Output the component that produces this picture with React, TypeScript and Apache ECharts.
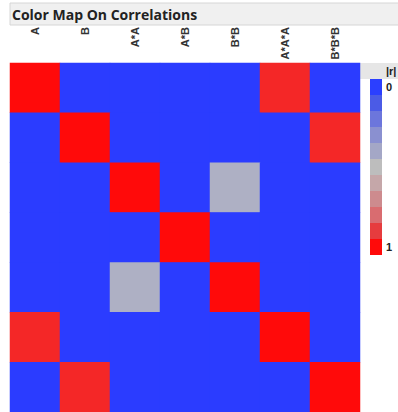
import React, { useEffect, useRef } from "react";
import * as echarts from "echarts";

const variables = ["A", "B", "A*A", "A*B", "B*B", "A*A*A", "B*B*B"];
const rowA = [1, 0, 0, 0, 0, 0.92, 0];
const rowB = [0, 1, 0, 0, 0, 0, 0.92];
const rowAA = [0, 0, 1, 0, 0.45, 0, 0];
const rowAB = [0, 0, 0, 1, 0, 0, 0];
const rowBB = [0, 0, 0.45, 0, 1, 0, 0];
const rowAAA = [0.92, 0, 0, 0, 0, 1, 0];
const rowBBB = [0, 0.92, 0, 0, 0, 0, 1];
const matrix = [rowA, rowB, rowAA, rowAB, rowBB, rowAAA, rowBBB];

const legendColors = [
  "#2b3fff", "#4b5be6", "#6c76dc", "#8a90d0", "#a4a7c6", "#bdbdbd",
  "#c5a7a9", "#cd8b8e", "#d96c70", "#e63c3e", "#ff0a0a",
];
const legendEnds = ["0", "1"];

export default function App() {
  const ref = useRef<HTMLDivElement>(null);
  useEffect(() => {
    const chart = echarts.init(ref.current!, null, { renderer: "svg" });
    const data: number[][] = [];
    matrix.forEach((row, y) => row.forEach((v, x) => data.push([x, y, v])));
    const n = legendColors.length;
    const pieces = legendColors.map((c, i) => ({
      gte: i / n,
      lt: i === n - 1 ? 1.0001 : (i + 1) / n,
      color: c,
      label: i === 0 ? legendEnds[0] : i === n - 1 ? legendEnds[1] : " ",
    }));
    chart.setOption({
      animation: false,
      textStyle: { fontFamily: "Liberation Sans, Arial, sans-serif" },
      grid: {
        left: 10,
        top: 63,
        width: 350,
        height: 350,
        show: true,
        backgroundColor: "#2b3cff",
        borderWidth: 0,
      },
      xAxis: {
        type: "category",
        data: variables,
        position: "top",
        axisLine: { show: false },
        axisTick: { show: false },
        splitLine: { show: false },
        axisLabel: {
          rotate: -90,
          align: "right",
          verticalAlign: "middle",
          margin: 36,
          padding: [5, 0, 0, 0],
          fontSize: 11,
          fontWeight: "bold",
          color: "#333",
          interval: 0,
        },
      },
      yAxis: {
        type: "category",
        data: variables,
        inverse: true,
        axisLine: { show: false },
        axisTick: { show: false },
        axisLabel: { show: false },
        splitLine: { show: false },
      },
      visualMap: [
        {
          type: "continuous",
          show: false,
          min: 0,
          max: 1,
          seriesIndex: 0,
          inRange: { color: ["#2b3cff", "#bdbdbd", "#ff0a0a"] },
        },
        {
          type: "piecewise",
          seriesIndex: 1,
          orient: "vertical",
          inverse: true,
          align: "left",
          left: 370,
          top: 79,
          padding: 0,
          itemWidth: 12,
          itemHeight: 16,
          itemGap: 0,
          itemSymbol: "rect",
          textGap: 4,
          selectedMode: false,
          pieces,
          textStyle: { fontSize: 11, color: "#222", fontWeight: "bold" },
        },
      ],
      graphic: [
        {
          type: "rect",
          shape: { x: 10, y: 3, width: 400, height: 22 },
          style: { fill: "#f0f0f0", stroke: "#d6d6d6", lineWidth: 1 },
        },
        {
          type: "text",
          x: 12,
          y: 14,
          style: {
            text: "Color Map On Correlations",
            fontSize: 14,
            fontWeight: "bold",
            fontFamily: "Open Sans, Liberation Sans, sans-serif",
            fill: "#222",
            verticalAlign: "middle",
          },
        },
        {
          type: "rect",
          shape: { x: 360, y: 63, width: 40, height: 16 },
          style: { fill: "#e6e6e6" },
        },
        {
          type: "text",
          x: 386,
          y: 71,
          style: {
            text: "|r|",
            fontSize: 11,
            fontWeight: "bold",
            fill: "#222",
            verticalAlign: "middle",
          },
        },
      ],
      series: [
        {
          type: "heatmap",
          data,
          emphasis: { disabled: true },
          itemStyle: { borderWidth: 0 },
        },
        { type: "scatter", data: [], silent: true },
      ],
    });
    return () => chart.dispose();
  }, []);
  return (
    <div
      ref={ref}
      style={{ position: "fixed", left: 0, top: 0, width: 398, height: 412, background: "#fff" }}
    />
  );
}
